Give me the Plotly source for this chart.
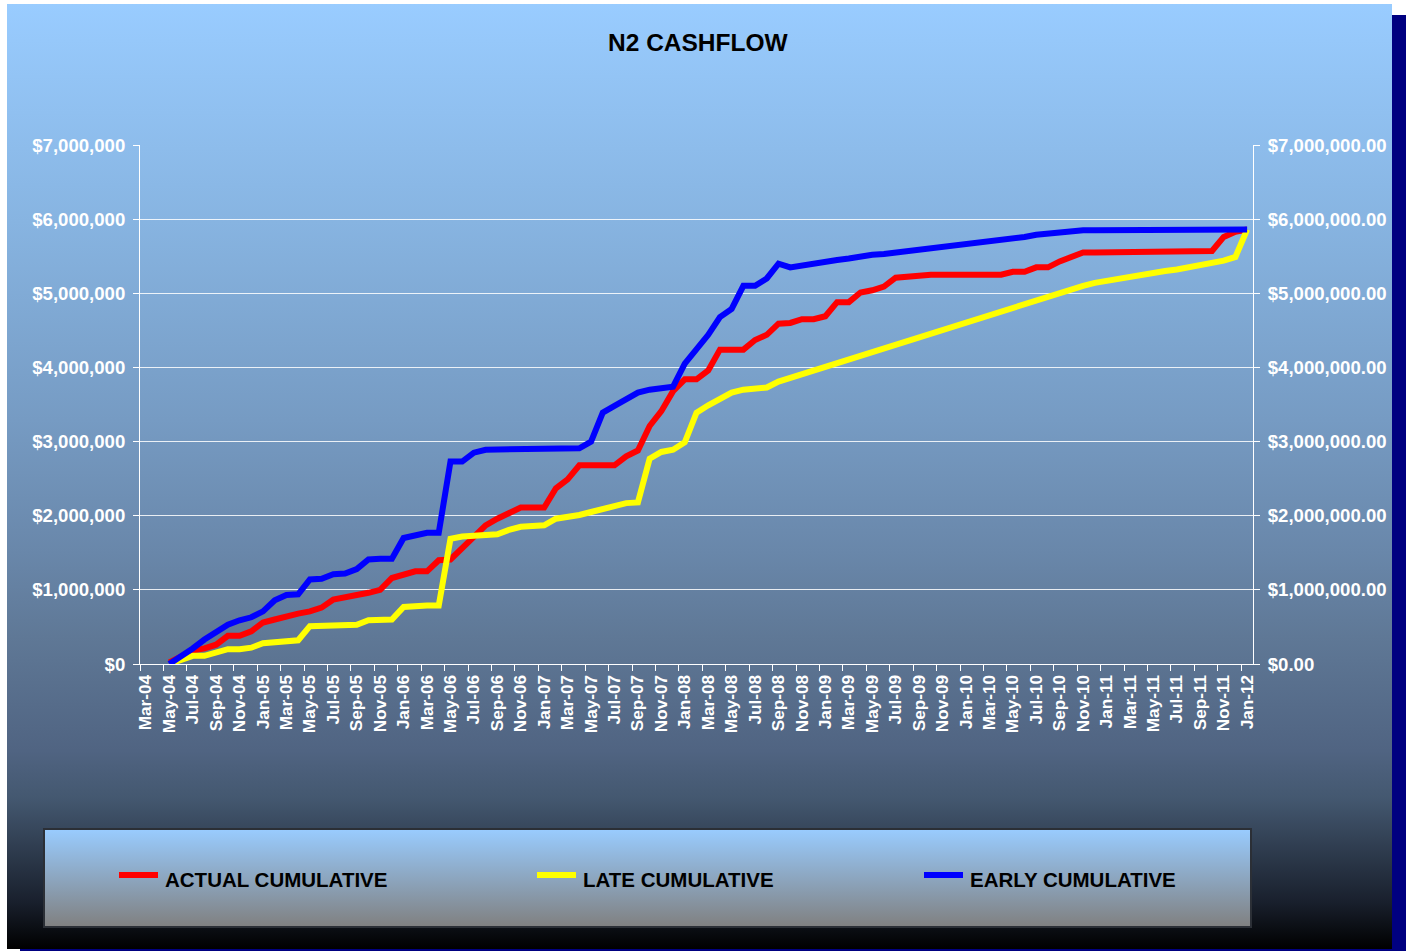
import base64
import plotly.graph_objects as go

# ---------------- data ----------------
CATEGORIES = [
    "Mar-04", "Apr-04", "May-04", "Jun-04", "Jul-04", "Aug-04", "Sep-04", "Oct-04", "Nov-04", "Dec-04",
    "Jan-05", "Feb-05", "Mar-05", "Apr-05", "May-05", "Jun-05", "Jul-05", "Aug-05", "Sep-05", "Oct-05", "Nov-05", "Dec-05",
    "Jan-06", "Feb-06", "Mar-06", "Apr-06", "May-06", "Jun-06", "Jul-06", "Aug-06", "Sep-06", "Oct-06", "Nov-06", "Dec-06",
    "Jan-07", "Feb-07", "Mar-07", "Apr-07", "May-07", "Jun-07", "Jul-07", "Aug-07", "Sep-07", "Oct-07", "Nov-07", "Dec-07",
    "Jan-08", "Feb-08", "Mar-08", "Apr-08", "May-08", "Jun-08", "Jul-08", "Aug-08", "Sep-08", "Oct-08", "Nov-08", "Dec-08",
    "Jan-09", "Feb-09", "Mar-09", "Apr-09", "May-09", "Jun-09", "Jul-09", "Aug-09", "Sep-09", "Oct-09", "Nov-09", "Dec-09",
    "Jan-10", "Feb-10", "Mar-10", "Apr-10", "May-10", "Jun-10", "Jul-10", "Aug-10", "Sep-10", "Oct-10", "Nov-10", "Dec-10",
    "Jan-11", "Feb-11", "Mar-11", "Apr-11", "May-11", "Jun-11", "Jul-11", "Aug-11", "Sep-11", "Oct-11", "Nov-11", "Dec-11",
    "Jan-12",
]
# series start at May-04
SERIES_X = CATEGORIES[2:]

# values in millions of dollars
ACTUAL_M = [
    0.02, 0.10, 0.18, 0.21, 0.26, 0.38, 0.38, 0.44, 0.56, 0.60,
    0.65, 0.68, 0.71, 0.76, 0.87, 0.89, 0.93, 0.96, 1.00, 1.16,
    1.21, 1.25, 1.25, 1.40, 1.41, 1.56, 1.72, 1.87, 1.96, 2.04,
    2.11, 2.11, 2.11, 2.37, 2.49, 2.68, 2.68, 2.68, 2.68, 2.80,
    2.88, 3.21, 3.41, 3.68, 3.84, 3.84, 3.96, 4.24, 4.24, 4.24,
    4.37, 4.44, 4.59, 4.60, 4.65, 4.65, 4.69, 4.88, 4.88, 5.01,
    5.04, 5.09, 5.21, 5.23, 5.23, 5.25, 5.25, 5.25, 5.25, 5.25,
    5.25, 5.25, 5.29, 5.29, 5.35, 5.35, 5.43, 5.50, 5.55, 5.55,
    5.55, 5.56, 5.56, 5.56, 5.56, 5.57, 5.57, 5.57, 5.57, 5.57,
    5.76, 5.83, 5.86,
]
LATE_M = [
    0.00, 0.05, 0.11, 0.11, 0.15, 0.20, 0.20, 0.22, 0.28, 0.30,
    0.32, 0.32, 0.51, 0.52, 0.52, 0.53, 0.53, 0.59, 0.60, 0.60,
    0.77, 0.79, 0.79, 0.79, 1.69, 1.72, 1.73, 1.74, 1.75, 1.81,
    1.85, 1.86, 1.87, 1.96, 1.98, 2.01, 2.05, 2.09, 2.13, 2.17,
    2.18, 2.77, 2.86, 2.89, 2.99, 3.39, 3.49, 3.58, 3.66, 3.70,
    3.72, 3.73, 3.81, 3.86, 3.92, 3.96, 4.01, 4.06, 4.11, 4.16,
    4.21, 4.26, 4.31, 4.36, 4.41, 4.46, 4.51, 4.56, 4.61, 4.66,
    4.71, 4.76, 4.81, 4.86, 4.91, 4.96, 5.01, 5.06, 5.10, 5.14,
    5.17, 5.19, 5.22, 5.25, 5.27, 5.30, 5.32, 5.35, 5.37, 5.40,
    5.44, 5.49, 5.86,
]
EARLY_M = [
    0.00, 0.10, 0.21, 0.33, 0.44, 0.53, 0.59, 0.63, 0.71, 0.86,
    0.93, 0.94, 1.14, 1.15, 1.21, 1.22, 1.28, 1.41, 1.42, 1.42,
    1.70, 1.74, 1.77, 1.77, 2.73, 2.73, 2.85, 2.89, 2.89, 2.89,
    2.89, 2.89, 2.89, 2.89, 2.90, 2.91, 3.00, 3.39, 3.48, 3.57,
    3.66, 3.70, 3.73, 3.74, 4.05, 4.23, 4.44, 4.68, 4.79, 5.10,
    5.10, 5.20, 5.40, 5.35, 5.38, 5.41, 5.43, 5.45, 5.47, 5.50,
    5.52, 5.53, 5.55, 5.55, 5.57, 5.59, 5.61, 5.63, 5.65, 5.67,
    5.70, 5.72, 5.74, 5.76, 5.79, 5.81, 5.83, 5.84, 5.85, 5.85,
    5.85, 5.85, 5.85, 5.85, 5.85, 5.85, 5.85, 5.85, 5.85, 5.85,
    5.85, 5.85, 5.86,
]
SERIES_NAMES = ["ACTUAL CUMULATIVE", "LATE CUMULATIVE", "EARLY CUMULATIVE"]
SERIES_COLORS = ["#FF0000", "#FFFF00", "#0000FF"]
LEGEND_SAMPLE_X = [117, 535, 922]  # pixel left edge of each legend line sample

# ---------------- geometry helpers ----------------
W, H = 1406, 951
PL, PR, PT, PB = 140, 1253, 145, 664  # plot area in pixels
PW, PH = PR - PL, PB - PT


def px(x):
    return (x - PL) / PW


def py(y):
    return (PB - y) / PH


def svg_gradient(w, h, stops):
    s = "".join(f'<stop offset="{o}" stop-color="{c}"/>' for o, c in stops)
    svg = (f'<svg xmlns="http://www.w3.org/2000/svg" width="{w}" height="{h}" '
           f'viewBox="0 0 {w} {h}" preserveAspectRatio="none"><defs>'
           f'<linearGradient id="g" x1="0" y1="0" x2="0" y2="1">{s}</linearGradient>'
           f'</defs><rect x="0" y="0" width="{w}" height="{h}" fill="url(#g)"/></svg>')
    return "data:image/svg+xml;base64," + base64.b64encode(svg.encode()).decode()


FONT = "Liberation Sans, Arial, sans-serif"

panel_stops = [
    (0.0, "rgb(153,204,255)"), (0.23, "rgb(135,180,225)"), (0.44, "rgb(118,155,195)"),
    (0.58, "rgb(105,135,170)"), (0.67, "rgb(95,120,150)"), (0.79, "rgb(80,100,130)"),
    (0.84, "rgb(68,88,112)"), (0.95, "rgb(25,32,45)"), (1.0, "rgb(0,0,0)"),
]
legend_stops = [(0.0, "rgb(153,204,255)"), (1.0, "rgb(128,128,128)")]

# panel and legend box extents
P_X0, P_Y0, P_X1, P_Y1 = 7, 4, 1392, 949
L_X0, L_Y0, L_X1, L_Y1 = 44, 829, 1251, 927
LEG_Y = 879

fig = go.Figure()
series = [ACTUAL_M, LATE_M, EARLY_M]
for vals, name, color in zip(series, SERIES_NAMES, SERIES_COLORS):
    fig.add_trace(go.Scatter(
        x=SERIES_X, y=[v * 1e6 for v in vals], mode="lines", name=name,
        line=dict(color=color, width=6), showlegend=False,
    ))
# secondary axis carrier (invisible)
fig.add_trace(go.Scatter(
    x=SERIES_X, y=[v * 1e6 for v in EARLY_M], yaxis="y2", mode="lines",
    line=dict(width=0, color="rgba(0,0,0,0)"), opacity=0, showlegend=False, hoverinfo="skip",
))

tickfont_y = dict(family=FONT, size=18.6, color="white", weight="bold")

shapes = [
    dict(type="rect", xref="paper", yref="paper", x0=px(P_X1), x1=px(W), y0=py(15), y1=py(H),
         fillcolor="#000080", line=dict(width=0), layer="below"),
    dict(type="rect", xref="paper", yref="paper", x0=px(20), x1=px(W), y0=py(P_Y1), y1=py(H),
         fillcolor="#000080", line=dict(width=0), layer="below"),
    dict(type="rect", xref="paper", yref="paper", x0=px(L_X0), x1=px(L_X1), y0=py(L_Y0), y1=py(L_Y1),
         fillcolor="rgba(0,0,0,0)", line=dict(color="#2b2f36", width=2), layer="below"),
]
annotations = [
    dict(text="<b>N2 CASHFLOW</b>", xref="paper", yref="paper", x=px(698.5), y=py(42.5),
         xanchor="center", yanchor="middle", showarrow=False,
         font=dict(family=FONT, size=24.5, color="black")),
]
for name, color, sx in zip(SERIES_NAMES, SERIES_COLORS, LEGEND_SAMPLE_X):
    shapes.append(dict(type="line", xref="paper", yref="paper", x0=px(sx + 2), x1=px(sx + 41),
                       y0=py(LEG_Y - 4), y1=py(LEG_Y - 4), line=dict(color=color, width=6), layer="above"))
    annotations.append(dict(text=f"<b>{name}</b>", xref="paper", yref="paper", x=px(sx + 46),
                            y=py(LEG_Y), xanchor="left", yanchor="middle", showarrow=False,
                            font=dict(family=FONT, size=20.5, color="black")))

fig.update_layout(
    width=W, height=H, autosize=False,
    margin=dict(l=PL, r=W - PR, t=PT, b=H - PB, pad=0, autoexpand=False),
    paper_bgcolor="white", plot_bgcolor="rgba(0,0,0,0)",
    showlegend=False,
    xaxis=dict(
        type="category", categoryorder="array", categoryarray=CATEGORIES,
        range=[-0.5, len(CATEGORIES) - 0.5], tickmode="linear", tick0=0, dtick=2,
        tickson="boundaries", ticks="outside", ticklen=6, tickwidth=1, tickcolor="white",
        showline=True, linecolor="white", linewidth=1, showgrid=False, zeroline=False,
        tickangle=-90, ticklabelstandoff=3, automargin=False,
        tickfont=dict(family=FONT, size=17.2, color="white", weight="bold"),
    ),
    yaxis=dict(
        range=[0, 7e6], tickmode="linear", tick0=0, dtick=1e6, tickformat="$,.0f",
        showgrid=True, gridcolor="rgba(255,255,255,0.85)", gridwidth=1, zeroline=False,
        showline=True, linecolor="white", linewidth=1, ticks="outside", ticklen=6,
        tickcolor="white", tickfont=tickfont_y, ticklabelstandoff=4, automargin=False,
    ),
    yaxis2=dict(
        range=[0, 7e6], overlaying="y", side="right", anchor="x", tickmode="linear", tick0=0,
        dtick=1e6, tickformat="$,.2f", showgrid=False, zeroline=False, showline=True,
        linecolor="white", linewidth=1, ticks="outside", ticklen=6, tickcolor="white",
        tickfont=tickfont_y, ticklabelstandoff=4, automargin=False,
    ),
    images=[
        dict(source=svg_gradient(P_X1 - P_X0, P_Y1 - P_Y0, panel_stops), xref="paper", yref="paper",
             x=px(P_X0), y=py(P_Y0), sizex=(P_X1 - P_X0) / PW, sizey=(P_Y1 - P_Y0) / PH,
             xanchor="left", yanchor="top", sizing="stretch", layer="below"),
        dict(source=svg_gradient(L_X1 - L_X0, L_Y1 - L_Y0, legend_stops), xref="paper", yref="paper",
             x=px(L_X0), y=py(L_Y0), sizex=(L_X1 - L_X0) / PW, sizey=(L_Y1 - L_Y0) / PH,
             xanchor="left", yanchor="top", sizing="stretch", layer="below"),
    ],
    shapes=shapes,
    annotations=annotations,
)

fig.write_html("out.html", config={"displayModeBar": False},
               post_script="document.body.style.margin='0';")
